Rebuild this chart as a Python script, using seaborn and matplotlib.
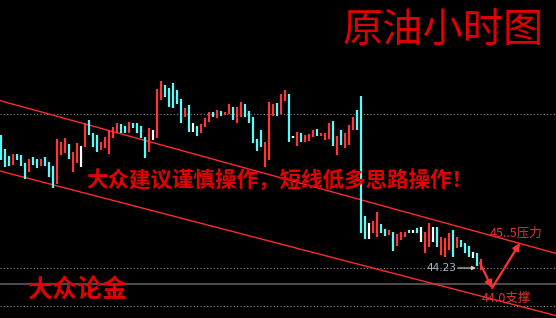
import matplotlib
matplotlib.use("Agg")
import matplotlib.pyplot as plt
import seaborn as sns
import pandas as pd

# ---- data (hourly crude oil bars: high, low, direction) ----
bar_high = [44.895, 44.825, 44.79, 44.80, 44.80, 44.795, 44.755, 44.775, 44.785, 44.775,
            44.775, 44.785, 44.76, 44.74, 44.875, 44.86, 44.88, 44.85, 44.81, 44.855,
            44.84, 44.955, 44.97, 44.905, 44.895, 44.86, 44.885, 44.92, 44.935, 44.955,
            44.95, 44.94, 44.96, 44.955, 44.955, 44.94, 44.885, 44.93, 44.92, 45.125,
            45.165, 45.145, 45.13, 45.155, 45.12, 45.075, 45.03, 45.045, 44.955, 44.94,
            44.95, 44.98, 45.01, 45.01, 45.02, 45.015, 45.01, 45.05, 45.035, 45.035,
            45.06, 45.05, 45.015, 44.985, 44.875, 44.92, 44.86, 45.06, 45.05, 45.055,
            45.10, 45.12, 45.10, 44.888, 44.91, 44.905, 44.895, 44.90, 44.92, 44.925,
            44.905, 44.905, 44.955, 44.965, 44.89, 44.92, 44.905, 44.945, 44.985, 45.02,
            45.09, 44.49, 44.455, 44.465, 44.51, 44.45, 44.425, 44.42, 44.41, 44.40,
            44.41, 44.41, 44.42, 44.42, 44.43, 44.435, 44.41, 44.455, 44.435, 44.435,
            44.385, 44.38, 44.405, 44.42, 44.385, 44.37, 44.355, 44.34, 44.31, 44.305,
            44.275]
bar_low = [44.77, 44.735, 44.74, 44.745, 44.77, 44.74, 44.675, 44.71, 44.745, 44.73,
           44.74, 44.74, 44.685, 44.63, 44.65, 44.795, 44.805, 44.775, 44.71, 44.755,
           44.735, 44.835, 44.895, 44.835, 44.81, 44.82, 44.83, 44.80, 44.88, 44.905,
           44.905, 44.905, 44.905, 44.93, 44.905, 44.88, 44.78, 44.81, 44.87, 44.88,
           45.07, 45.085, 45.035, 45.03, 45.05, 44.955, 44.985, 44.91, 44.91, 44.89,
           44.905, 44.935, 44.96, 44.985, 44.98, 44.99, 44.995, 45.00, 44.97, 44.955,
           44.985, 44.985, 44.955, 44.855, 44.815, 44.835, 44.735, 44.77, 44.99, 44.99,
           45.00, 45.065, 44.86, 44.882, 44.84, 44.86, 44.86, 44.865, 44.885, 44.89,
           44.89, 44.87, 44.875, 44.84, 44.795, 44.845, 44.83, 44.845, 44.92, 44.92,
           44.405, 44.375, 44.375, 44.405, 44.385, 44.405, 44.39, 44.395, 44.315, 44.34,
           44.37, 44.385, 44.405, 44.405, 44.405, 44.36, 44.305, 44.335, 44.36, 44.335,
           44.295, 44.285, 44.32, 44.285, 44.33, 44.335, 44.305, 44.285, 44.28, 44.24,
           44.22]
# r = up bar (red), c = down bar (cyan), w = flat bar (white)
bar_dir = list("cccrcccrcc" "rcccrrrcrr" "wrcccrrrrr" "ccrccccrwr"
               "rcccccrcwc" "rrrcrcrrcr" "rcccccrrrc" "rrcwrcrrrc"
               "rrrcrcrrrc" "ccwrrccrcr" "rrcwcwrrwc" "rrrcrcccwc" "r")

upper_trend = [(0, 45.066), (138, 44.3075)]
lower_trend = [(0, 44.714), (138, 43.996)]
grid_dotted = [45.00, 44.23, 44.04]
grid_solid = [44.15]
last_price = 44.23
arrow_path = [(119.8, 44.255), (122.8, 44.13), (129.8, 44.355)]

title_text = "原油小时图"
advice_text = "大众建议谨慎操作，短线低多思路操作！"
brand_text = "大众论金"
resist_text = "45..5压力"
support_text = "44.0支撑"

# ---- build long-form table ----
n = len(bar_high)
rows = []
for i in range(n):
    rows.append({"idx": i, "price": bar_high[i], "bar": i, "dir": bar_dir[i]})
    rows.append({"idx": i, "price": bar_low[i], "bar": i, "dir": bar_dir[i]})
df = pd.DataFrame(rows)

sns.set_theme(style="dark", rc={"axes.facecolor": "black", "figure.facecolor": "black"})
plt.rcParams["font.family"] = ["Noto Sans CJK SC", "DejaVu Sans"]

fig = plt.figure(figsize=(5.56, 3.18), dpi=100)
ax = fig.add_axes([0, 0, 1, 1])
ax.set_facecolor("black")

for p in grid_dotted:
    ax.axhline(p, color="#8a8a8a", linestyle=(0, (1, 2)), linewidth=0.8, zorder=1)
for p in grid_solid:
    ax.axhline(p, color="#5c5c5c", linestyle="-", linewidth=1.2, zorder=1)

ax.axline(upper_trend[0], upper_trend[1], color="#ff2a2a", linewidth=1.0, zorder=2)
ax.axline(lower_trend[0], lower_trend[1], color="#ff2a2a", linewidth=1.0, zorder=2)

palette = {"r": "#ff3434", "c": "#54fcfc", "w": "#ffffff"}
sns.lineplot(data=df, x="idx", y="price", units="bar", estimator=None, hue="dir",
             palette=palette, linewidth=1.6, legend=False, ax=ax, sort=False, zorder=3,
             solid_capstyle="butt")

# very short (doji) bars drawn as small marks
for i in range(n):
    if bar_high[i] - bar_low[i] < 0.01:
        ax.plot([i, i], [bar_low[i] - 0.003, bar_high[i] + 0.003], color=palette[bar_dir[i]],
                linewidth=1.6, solid_capstyle="butt", zorder=3)

# red arrows
(xa, ya), (xb, yb), (xc, yc) = arrow_path
ax.annotate("", xy=(xb, yb), xytext=(xa, ya),
            arrowprops=dict(arrowstyle="-|>", color="#ff3030", lw=1.6, mutation_scale=10,
                            shrinkA=0, shrinkB=0), zorder=5)
ax.annotate("", xy=(xc, yc), xytext=(xb, yb),
            arrowprops=dict(arrowstyle="-|>", color="#ff3030", lw=1.6, mutation_scale=10,
                            shrinkA=0, shrinkB=0), zorder=5)

# last price marker
ax.annotate("", xy=(118.8, last_price), xytext=(114.3, last_price),
            arrowprops=dict(arrowstyle="-|>", color="#d0d0d0", lw=0.8, mutation_scale=6,
                            shrinkA=0, shrinkB=0), zorder=5)
ax.text(113.9, last_price, f"{last_price:.2f}", color="#a9b6cc", fontsize=7.5,
        ha="right", va="center", family=["DejaVu Sans"])

ax.set_xlim(-0.175, 138.8)
ax.set_ylim(43.98, 45.57)
ax.set_xticks([])
ax.set_yticks([])
ax.set_xlabel("")
ax.set_ylabel("")
for s in ax.spines.values():
    s.set_visible(False)

W, H = 556, 318
fig.text(443 / W, 1 - 30 / H, title_text, color="#e00000", fontsize=29,
         ha="center", va="center")
fig.text(280 / W, 1 - 180 / H, advice_text, color="#e40000", fontsize=15.5,
         fontweight="bold", ha="center", va="center")
fig.text(77 / W, 1 - 290 / H, brand_text, color="#e40000", fontsize=18,
         fontweight="bold", ha="center", va="center")
fig.text(490 / W, 1 - 233 / H, resist_text, color="#e83030", fontsize=9,
         ha="left", va="center")
fig.text(482 / W, 1 - 298 / H, support_text, color="#e83030", fontsize=9,
         ha="left", va="center")

fig.savefig("out.png", dpi=100, facecolor="black")
